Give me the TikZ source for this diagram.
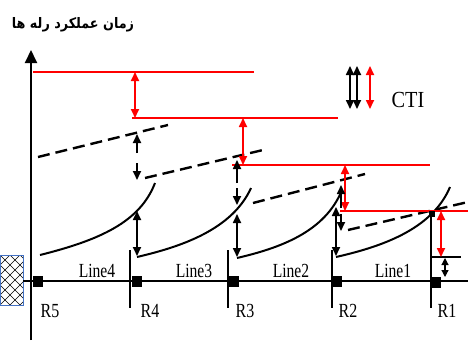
\documentclass[tikz,border=0pt]{standalone}
\usepackage{fontspec}
\setmainfont{Liberation Serif}
\newfontfamily\arabicfont[Script=Arabic]{DejaVu Sans}
\TeXXeTstate=1
\usetikzlibrary{arrows.meta}
\begin{document}
\begin{tikzpicture}[x=1pt,y=-1pt,
  redl/.style={red,line width=2.3pt},
  curvel/.style={black,line width=2pt},
  dcurve/.style={black,line width=2.4pt,dash pattern=on 12pt off 6pt},
  bdarr/.style={black,line width=1.7pt,{Triangle[width=8pt,length=9pt]}-{Triangle[width=8pt,length=9pt]}},
  rdarr/.style={red,line width=1.7pt,{Triangle[width=8pt,length=9pt]}-{Triangle[width=8pt,length=9pt]}},
  barr/.style={black,line width=1.7pt,-{Triangle[width=8pt,length=9pt]}},
  busq/.style={fill=black,minimum width=10pt,minimum height=11pt,inner sep=0pt},
  lbl/.style={font=\fontsize{20}{20}\selectfont,inner sep=0pt,anchor=base},
  thick line/.style={line width=1.9pt}
]
\path[use as bounding box] (0,0) rectangle (468,340);

% title
\node[inner sep=0pt] (title) at (73,25) {\arabicfont\fontsize{14.5}{14.5}\selectfont\bfseries\scalebox{0.88}[1]{\beginR زمان عملکرد رله ها\endR}};

% hatched source
\begin{scope}
  \clip (0,255) rectangle (23,305);
  \foreach \i in {-60,-50,...,30} {
    \draw[line width=0.6pt] (\i,255) -- ++(50,50);
    \draw[line width=0.6pt] (\i,305) -- ++(50,-50);
  }
\end{scope}
\draw[draw={rgb,255:red,68;green,114;blue,196},line width=0.8pt] (0.4,255) rectangle (23,305);

% axis and bus
\coordinate (ax0) at (31,340);
\coordinate (ax1) at (31,50);
\draw[thick line,-{Triangle[width=12pt,length=13pt]}] (ax0) -- (ax1);
\coordinate (b0) at (23,281);
\coordinate (b1) at (468,281);
\draw[thick line] (b0) -- (b1);

% relay markers
\foreach \n/\x in {4/130,3/228,2/332,1/431}{
  \coordinate (m\n a) at (\x,250);
  \coordinate (m\n b) at (\x,308);
  \draw[thick line] (m\n a) -- (m\n b);
}

% bus squares
\node[busq] (s5) at (38,281) {};
\node[busq] (s4) at (137,281) {};
\node[busq] (s3) at (234,281) {};
\node[busq] (s2) at (337,281) {};
\node[busq] (s1) at (436,282) {};

% labels
\node[lbl] (r5) at (50,317) {\scalebox{0.8}[1]{R5}};
\node[lbl] (r4) at (150,317) {\scalebox{0.8}[1]{R4}};
\node[lbl] (r3) at (245,317) {\scalebox{0.8}[1]{R3}};
\node[lbl] (r2) at (348,317) {\scalebox{0.8}[1]{R2}};
\node[lbl] (r1) at (447,317) {\scalebox{0.8}[1]{R1}};
\node[lbl] (l4) at (97,277) {\scalebox{0.78}[1]{Line4}};
\node[lbl] (l3) at (194,277) {\scalebox{0.78}[1]{Line3}};
\node[lbl] (l2) at (291,277) {\scalebox{0.78}[1]{Line2}};
\node[lbl] (l1) at (393,277) {\scalebox{0.78}[1]{Line1}};

% solid characteristics
\coordinate (c5a) at (40,255);  \coordinate (c5b) at (155,183);
\coordinate (c4a) at (137,257); \coordinate (c4b) at (251,188);
\coordinate (c3a) at (237,258); \coordinate (c3b) at (342,190);
\coordinate (c2a) at (336,257); \coordinate (c2b) at (450,187);
\draw[curvel] (c5a) .. controls (100,240) and (140,222) .. (c5b);
\draw[curvel] (c4a) .. controls (180,247) and (232,230) .. (c4b);
\draw[curvel] (c3a) .. controls (280,248) and (325,232) .. (c3b);
\draw[curvel] (c2a) .. controls (380,247) and (432,230) .. (c2b);

% R1 definite-time step
\coordinate (p1a) at (431,214);
\coordinate (p1b) at (431,257);
\coordinate (p1c) at (461,257);
\draw[thick line] (p1a) -- (p1b) -- (p1c);

% dashed characteristics
\coordinate (d1a) at (38,157);  \coordinate (d1b) at (168,125);
\coordinate (d2a) at (145,178); \coordinate (d2b) at (263,150);
\coordinate (d3a) at (253,203); \coordinate (d3b) at (365,174);
\coordinate (d4a) at (348,230); \coordinate (d4b) at (468,202);
\draw[dcurve] (d1a) -- (d1b);
\draw[dcurve] (d2a) -- (d2b);
\draw[dcurve] (d3a) -- (d3b);
\draw[dcurve] (d4a) -- (d4b);

% red lines
\coordinate (h1a) at (33,72);   \coordinate (h1b) at (254,72);
\coordinate (h2a) at (132,118); \coordinate (h2b) at (338,118);
\coordinate (h3a) at (232,165); \coordinate (h3b) at (430,165);
\coordinate (h4a) at (340,211); \coordinate (h4b) at (468,211);
\draw[redl] (h1a) -- (h1b);
\draw[redl] (h2a) -- (h2b);
\draw[redl] (h3a) -- (h3b);
\draw[redl] (h4a) -- (h4b);

% red CTI arrows
\coordinate (ra1) at (135,72);  \coordinate (rb1) at (135,118);
\coordinate (ra2) at (243,118); \coordinate (rb2) at (243,165);
\coordinate (ra3) at (345,165); \coordinate (rb3) at (345,211);
\coordinate (ra4) at (441,211); \coordinate (rb4) at (441,257);
\draw[rdarr] (ra1) -- (rb1);
\draw[rdarr] (ra2) -- (rb2);
\draw[rdarr] (ra3) -- (rb3);
\draw[rdarr] (ra4) -- (rb4);

% black arrows between solid curves
\coordinate (ka4) at (137,211); \coordinate (kb4) at (137,256);
\coordinate (ka3) at (237,214); \coordinate (kb3) at (237,257);
\coordinate (ka2) at (336,207); \coordinate (kb2) at (336,256);
\draw[bdarr] (ka4) -- (kb4);
\draw[bdarr] (ka3) -- (kb3);
\draw[bdarr] (ka2) -- (kb2);

% black arrows between dashed curves (broken)
\coordinate (u4s) at (137,153); \coordinate (u4t) at (137,134);
\coordinate (w4s) at (137,163); \coordinate (w4t) at (137,180);
\coordinate (u3s) at (237,183); \coordinate (u3t) at (237,160);
\coordinate (w3s) at (237,188); \coordinate (w3t) at (237,205);
\coordinate (u2s) at (341,208); \coordinate (u2t) at (341,185);
\coordinate (w2s) at (341,214); \coordinate (w2t) at (341,231);
\draw[barr] (u4s) -- (u4t);
\draw[barr] (w4s) -- (w4t);
\draw[barr] (u3s) -- (u3t);
\draw[barr] (w3s) -- (w3t);
\draw[barr] (u2s) -- (u2t);
\draw[barr] (w2s) -- (w2t);

% small arrow at R1
\coordinate (q1a) at (445,258); \coordinate (q1b) at (445,277);
\draw[black,line width=1.2pt,{Triangle[width=7pt,length=7pt]}-{Triangle[width=7pt,length=7pt]}] (q1a) -- (q1b);

% dot at intersection
\node[fill=black,minimum size=6pt,inner sep=0pt] (dot) at (432,214) {};

% legend
\coordinate (g1a) at (350,66); \coordinate (g1b) at (350,109);
\coordinate (g2a) at (357,66); \coordinate (g2b) at (357,109);
\coordinate (g3a) at (370,66); \coordinate (g3b) at (370,109);
\draw[bdarr] (g1a) -- (g1b);
\draw[bdarr] (g2a) -- (g2b);
\draw[rdarr] (g3a) -- (g3b);
\node[inner sep=0pt,font=\fontsize{23}{23}\selectfont] (cti) at (408,100) {\scalebox{0.88}[1]{CTI}};
\end{tikzpicture}
\end{document}
